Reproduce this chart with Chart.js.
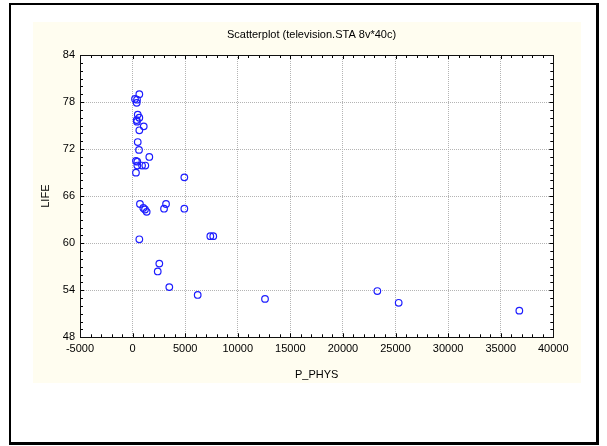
<html lang="en">
<head>
  <meta charset="UTF-8">
  <title>Scatterplot</title>
  <script src="https://cdn.jsdelivr.net/npm/chart.js"></script>
  <style>
    body { margin: 0; background: #fff; }
    #frame { position: absolute; left: 9px; top: 3px; width: 590px; height: 442px; box-sizing: border-box;
             border: 2px solid #000; border-right-width: 3px; border-bottom-width: 3px; }
    #panel { position: absolute; left: 33px; top: 22px; width: 548px; height: 361px; background: #fffdf0; }
    #wrap { position: absolute; left: 0; top: 0; width: 607px; height: 446px; }
  </style>
</head>
<body>
  <div id="frame"></div>
  <div id="panel"></div>
  <div id="wrap"><canvas id="viz" width="607" height="446"></canvas></div>

  <script>
    // P_PHYS (x) and LIFE (y)
    const pPhys = [640, 230, 420, 390, 490, 640, 390, 420, 1060, 640, 490, 610, 320, 450, 1590,
                   450, 900, 1210, 320, 4920, 700, 1020, 1180, 1340, 3180, 2990, 4920, 640,
                   7390, 7670, 2540, 2390, 3490, 6190, 12590, 23270, 25300, 36770]
    const life = [79.0, 78.4, 78.3, 77.9, 76.4, 76.0, 75.7, 75.5, 74.9, 74.4, 72.9, 71.9, 70.5, 70.4, 71.0,
                  69.9, 69.9, 69.9, 69.0, 68.4, 65.0, 64.5, 64.3, 64.0, 65.0, 64.4, 64.4, 60.5,
                  60.9, 60.9, 57.4, 56.4, 54.4, 53.4, 52.9, 53.9, 52.4, 51.4]

    const xMin = -5000, xMax = 40000, xStep = 5000, xMinor = 1000
    const yMin = 48, yMax = 84, yStep = 6, yMinor = 1

    const font = { family: "'Liberation Sans', Arial, sans-serif", size: 11 }

    // white plot area, frame and inside tick marks
    const plotFrame = {
      id: 'plotFrame',
      beforeDraw(chart) {
        const { ctx, chartArea: a } = chart
        ctx.save()
        ctx.fillStyle = '#fff'
        ctx.fillRect(a.left, a.top, a.right - a.left, a.bottom - a.top)
        ctx.restore()
      },
      afterDraw(chart) {
        const { ctx, chartArea: a, scales } = chart
        ctx.save()
        ctx.strokeStyle = '#000'
        ctx.lineWidth = 1
        ctx.beginPath()
        for (let v = xMin; v <= xMax; v += xMinor) {
          const px = Math.round(scales.x.getPixelForValue(v)) + 0.5
          const len = v % xStep === 0 ? 4 : 3
          ctx.moveTo(px, a.bottom); ctx.lineTo(px, a.bottom - len)
          ctx.moveTo(px, a.top); ctx.lineTo(px, a.top + len)
        }
        for (let v = yMin; v <= yMax; v += yMinor) {
          const py = Math.round(scales.y.getPixelForValue(v)) + 0.5
          const len = v % yStep === 0 ? 4 : 3
          ctx.moveTo(a.left, py); ctx.lineTo(a.left + len, py)
          ctx.moveTo(a.right, py); ctx.lineTo(a.right - len, py)
        }
        ctx.stroke()
        ctx.strokeStyle = '#111'
        ctx.strokeRect(Math.round(a.left) + 0.5, Math.round(a.top) + 0.5,
                       Math.round(a.right - a.left), Math.round(a.bottom - a.top))
        ctx.restore()
      }
    }

    new Chart(document.getElementById('viz'), {
      type: 'scatter',
      data: {
        datasets: [{
          label: 'LIFE',
          data: pPhys.map((x, i) => ({ x, y: life[i] })),
          pointStyle: 'circle',
          pointRadius: 3.3,
          borderColor: 'rgb(30,30,255)',
          backgroundColor: 'rgba(0,0,0,0)',
          borderWidth: 1.2
        }]
      },
      options: {
        responsive: false,
        devicePixelRatio: 1,
        animation: false,
        layout: { padding: { left: 16, right: 0, top: 0, bottom: 0 } },
        plugins: {
          legend: { display: false },
          tooltip: { enabled: false },
          title: {
            display: true,
            text: 'Scatterplot (television.STA 8v*40c)',
            color: '#000',
            font: { ...font, weight: 'normal' },
            padding: { top: 28.4, bottom: 13.4 }
          }
        },
        scales: {
          x: {
            type: 'linear',
            min: xMin, max: xMax,
            ticks: { stepSize: xStep, color: '#000', font, padding: 5, callback: v => v },
            grid: { color: '#b4b4b4', drawTicks: false },
            border: { display: false, dash: [1, 1] },
            title: { display: true, text: 'P_PHYS', color: '#000', font, padding: { top: 4, bottom: 64.4 } },
            afterFit: s => { s.height = 108.7 }
          },
          y: {
            min: yMin, max: yMax,
            ticks: { stepSize: yStep, color: '#000', font, padding: 5 },
            grid: { color: '#b4b4b4', drawTicks: false },
            border: { display: false, dash: [1, 1] },
            title: { display: true, text: 'LIFE', color: '#000', font, padding: { top: 23.4, bottom: 0 } },
            afterFit: s => { s.width = 64 }
          },
          y2: {
            position: 'right',
            min: yMin, max: yMax,
            ticks: { display: false },
            grid: { display: false, drawTicks: false },
            border: { display: false },
            afterFit: s => { s.width = 53.7 }
          }
        }
      },
      plugins: [plotFrame]
    })
  </script>
</body>
</html>
